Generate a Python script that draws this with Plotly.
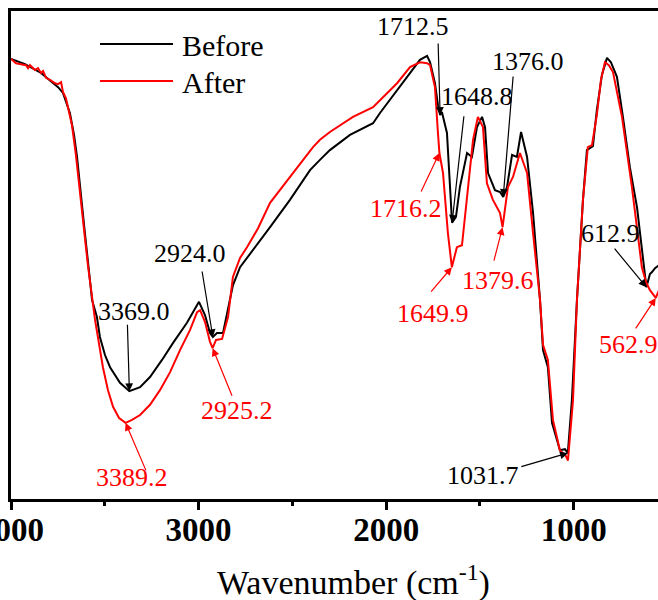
import numpy as np
import plotly.graph_objects as go

# FTIR spectra (arbitrary transmittance scale, 0-100)
wn_before = [4000, 3925, 3840, 3749, 3723, 3700, 3686, 3664, 3648, 3606, 3568, 3542, 3526, 3499, 3472,
             3419, 3369, 3312, 3259, 3195, 3136, 3062, 2998, 2966, 2939, 2924, 2902, 2870, 2833, 2817,
             2779, 2710, 2619, 2513, 2406, 2353, 2300, 2193, 2070, 2033, 1942, 1873, 1820, 1782, 1766,
             1740, 1724, 1712.5, 1703, 1676, 1660, 1648.8, 1628, 1607, 1569, 1543, 1516, 1489, 1473,
             1457, 1420, 1393, 1376, 1356, 1329, 1303, 1281, 1249, 1217, 1180, 1164, 1138, 1116, 1074,
             1047, 1031.7, 1010, 983, 951, 930, 898, 877, 850, 823, 802, 770, 738, 701, 663, 642, 612.9,
             594, 583, 567, 541]
t_before = [90.2, 89.1, 87.3, 84.4, 83.2, 80.9, 79.1, 74.6, 70.1, 54.5, 40.8, 37.3, 33.2, 29.5, 27.0,
            23.8, 22.1, 22.9, 25.0, 28.5, 32.0, 36.1, 40.4, 37.7, 34.0, 33.2, 34.0, 34.0, 40.8, 43.8,
            47.5, 51.0, 55.7, 61.3, 67.4, 69.5, 71.5, 74.6, 77.0, 79.1, 83.8, 87.3, 90.0, 90.8, 89.5,
            85.2, 80.7, 78.7, 79.3, 75.0, 64.7, 56.6, 57.8, 63.9, 70.9, 70.1, 76.2, 78.3, 76.2,
            66.8, 63.3, 62.9, 61.9, 63.9, 70.5, 70.1, 75.2, 70.1, 58.6, 40.8, 30.5, 27.0, 15.6, 10.0,
            10.2, 9.4, 20.3, 40.8, 61.3, 71.5, 72.3, 79.7, 86.9, 90.4, 89.5, 86.5, 78.3, 68.0, 59.8, 53.1, 43.4,
            46.1, 46.5, 47.3, 48.0]

wn_after = [4000, 3973, 3947, 3920, 3909, 3899, 3872, 3856, 3840, 3829, 3813, 3792, 3765, 3749, 3733,
            3723, 3707, 3696, 3675, 3654, 3632, 3590, 3552, 3510, 3483, 3456, 3424, 3389.2, 3355, 3312,
            3259, 3206, 3152, 3099, 3046, 3008, 2992, 2966, 2939, 2925.2, 2907, 2875, 2843, 2817, 2779,
            2742, 2683, 2619, 2497, 2390, 2353, 2300, 2177, 2070, 1942, 1873, 1820, 1782, 1766, 1740,
            1724, 1716.2, 1697, 1671, 1649.9, 1623, 1596, 1569, 1537, 1511, 1484, 1463, 1431, 1393,
            1379.6, 1351, 1324, 1287, 1249, 1217, 1180, 1164, 1138, 1111, 1074, 1042, 1031, 1004, 983,
            951, 925, 903, 877, 855, 834, 813, 791, 743, 690, 637, 615, 594, 562.9, 541]
t_after = [90.2, 89.3, 89.1, 88.9, 88.3, 88.9, 87.9, 88.3, 87.3, 87.7, 86.3, 85.9, 85.2, 85.0, 85.4,
           83.4, 82.1, 80.1, 76.6, 70.5, 62.3, 47.9, 36.7, 27.0, 22.3, 18.9, 16.6, 15.6, 16.2, 17.2,
           19.3, 22.3, 26.0, 30.5, 34.6, 38.3, 38.7, 36.3, 32.2, 30.9, 32.6, 32.8, 37.3, 45.5, 49.4,
           51.6, 55.5, 60.7, 66.8, 72.1, 73.6, 75.2, 78.3, 80.3, 85.2, 88.5, 89.5, 89.3, 88.9, 84.4,
           75.0, 70.9, 66.8, 54.5, 47.5, 51.6, 52.0, 61.3, 73.6, 78.3, 76.2, 64.7, 61.3, 58.6,
           55.7, 63.9, 66.0, 70.9, 66.8, 54.5, 40.8, 31.6, 28.5, 16.2, 10.0, 8.8, 7.9, 20.3, 40.8,
           61.3, 72.1, 72.5, 78.7, 85.9, 89.5, 88.9, 87.5, 78.3, 63.9, 47.5, 44.5, 42.8, 41.2, 43.2]

x_ticks = [4000, 3000, 2000, 1000]

# labelled peaks: (label, wavenumber, arrow tail dx/dy px, text shift dx/dy px)
peaks_before = [("3369.0", 3369, (-2, -68), (5, 80)),
                ("2924.0", 2924, (-11, -67), (-23, 83)),
                ("1712.5", 1712.5, (-2, -73), (-27, 88)),
                ("1648.8", 1648.8, (12, -108), (25, 126)),
                ("1376.0", 1376, (10, -122), (25, 135)),
                ("1031.7", 1031.7, (-48, 14), (-85, -22)),
                ("612.9", 612.9, (-33, -40), (-36, 54))]
peaks_after = [("3389.2", 3389.2, (21, 49), (6, -55)),
               ("2925.2", 2925.2, (20, 49), (24, -62)),
               ("1716.2", 1716.2, (-19, 40), (-33, -55)),
               ("1649.9", 1649.9, (-22, 26), (-19, -46)),
               ("1379.6", 1379.6, (-9, 35), (-5, -53)),
               ("562.9", 562.9, (-21, 32), (-27, -47))]

FONT = "Liberation Serif"

fig = go.Figure()
fig.add_trace(go.Scatter(x=wn_before, y=t_before, mode='lines', name='Before',
                         line=dict(color='black', width=2)))
fig.add_trace(go.Scatter(x=wn_after, y=t_after, mode='lines', name='After',
                         line=dict(color='#ff0000', width=2)))


def add_peaks(peaks, wn, t, color):
    wn_sorted = np.array(wn)[::-1]
    t_sorted = np.array(t)[::-1]
    for label, pos, (ax, ay), (sx, sy) in peaks:
        val = float(np.interp(pos, wn_sorted, t_sorted))
        fig.add_annotation(x=pos, y=val, text="", showarrow=True, ax=ax, ay=ay,
                           arrowhead=2, arrowsize=1.3, arrowwidth=1.2, arrowcolor=color)
        fig.add_annotation(x=pos, y=val, text=label, showarrow=False, xshift=sx, yshift=sy,
                           font=dict(family=FONT, size=26, color=color))


add_peaks(peaks_before, wn_before, t_before, 'black')
add_peaks(peaks_after, wn_after, t_after, '#ff0000')

# legend drawn by hand (long sample lines)
fig.add_shape(type='line', xref='paper', yref='paper', x0=0.1376, x1=0.2504, y0=0.9324, y1=0.9324,
              line=dict(color='black', width=2))
fig.add_shape(type='line', xref='paper', yref='paper', x0=0.1376, x1=0.2504, y0=0.8566, y1=0.8566,
              line=dict(color='#ff0000', width=2))
fig.add_annotation(xref='paper', yref='paper', x=0.2605, y=0.9303, text="Before", showarrow=False,
                   xanchor='left', yanchor='middle', font=dict(family=FONT, size=30, color='black'))
fig.add_annotation(xref='paper', yref='paper', x=0.2605, y=0.8545, text="After", showarrow=False,
                   xanchor='left', yanchor='middle', font=dict(family=FONT, size=30, color='black'))

# axis title
fig.add_annotation(xref='paper', yref='paper', x=0.5286, y=-0.166, text="Wavenumber (cm<sup>-1</sup>)",
                   showarrow=False, xanchor='center', yanchor='middle',
                   font=dict(family=FONT, size=34, color='black'))

fig.update_xaxes(range=[4000, 551], tickvals=x_ticks, ticks='outside', ticklen=8, tickwidth=3,
                 tickcolor='black', showline=True, linecolor='black', linewidth=3, mirror=True,
                 showgrid=False, zeroline=False, ticklabeloverflow='allow', automargin=False,
                 ticklabelstandoff=-9,
                 tickfont=dict(family=FONT, size=33, color='black', weight='bold'),
                 minor=dict(tickvals=[3500, 2500, 1500], ticks='outside', ticklen=4, tickwidth=3,
                            tickcolor='black'))
fig.update_yaxes(range=[0, 100], showticklabels=False, ticks='', showline=True, linecolor='black',
                 linewidth=3, showgrid=False, zeroline=False, automargin=False)

fig.update_layout(width=658, height=600, showlegend=False,
                  font=dict(family=FONT),
                  margin=dict(l=11, r=0, t=11, b=101),
                  plot_bgcolor='white', paper_bgcolor='white')

fig.write_html("out.html", config={'displayModeBar': False},
               post_script="document.body.style.margin='0';")
